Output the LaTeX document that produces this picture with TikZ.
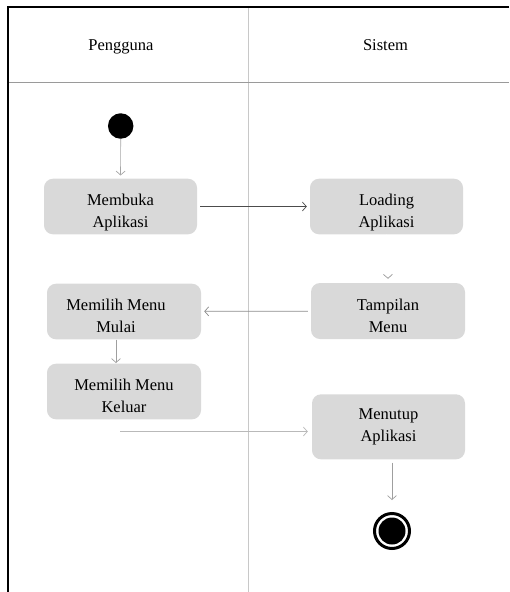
\documentclass[tikz,border=0pt]{standalone}
\usepackage{fontspec}
\setmainfont{Liberation Serif}
\usetikzlibrary{arrows.meta}
\definecolor{boxfill}{HTML}{D9D9D9}
\definecolor{lanegray}{HTML}{C8C8C8}
\definecolor{sepgray}{HTML}{9A9A9A}
% two centred lines; the taller first row sets the text a little low in its box
\newcommand{\acttext}[1]{\begin{tabular}{@{}c@{}}\rule{0pt}{27pt}#1\end{tabular}}
\tikzset{
  lbl/.style={font=\fontsize{16.5}{22}\selectfont},
  activity/.style={lbl, fill=boxfill, draw=none, rounded corners=9pt,
    minimum width=153pt, minimum height=55pt, inner sep=0pt, align=center},
  flow/.style={draw=#1, line width=0.7pt,
    -{Straight Barb[length=4pt,width=9pt,line width=0.7pt]},
    shorten <=3pt, shorten >=3pt},
  flow/.default={gray},
}
\begin{document}
\begin{tikzpicture}[x=1pt,y=-1pt]
\useasboundingbox (0,0) rectangle (509,592);
% swimlane frame
\draw[lanegray, line width=1.2pt] (248.3,7) -- (248.3,592);
\draw[sepgray, line width=1.2pt] (9.2,82.7) -- (509,82.7);
\draw[black, line width=2pt] (509,6.7) -- (8.2,6.7) -- (8.2,592);
% lane headers
\node[lbl, anchor=base] (hUser) at (121,50.5) {Pengguna};
\node[lbl, anchor=base] (hSys) at (385.5,50.5) {Sistem};
% start and end states
\node[circle, fill=black, minimum size=25.5pt, inner sep=0pt] (start) at (120.7,126) {};
\node[circle, draw=black, line width=3pt, fill=white, minimum size=35pt, inner sep=0pt] (finish) at (392,531) {};
\fill[black] (finish.center) circle (13.5);
% activities
\node[activity] (buka) at (120.5,206.5) {\acttext{Membuka\\Aplikasi}};
\node[activity] (load) at (386.5,206.5) {\acttext{Loading\\Aplikasi}};
\node[activity, minimum width=154pt, minimum height=56pt] (tampil) at (388,311) {\acttext{Tampilan\\Menu}};
\node[activity, minimum width=154pt] (mulai) at (124,311.5) {\acttext{\hspace*{-16pt}Memilih Menu\\\hspace*{-16pt}Mulai}};
\node[activity, minimum width=154pt] (keluar) at (124,391.5) {\acttext{Memilih Menu\\Keluar}};
\node[activity, minimum height=65pt] (tutup) at (388.5,426.8) {Menutup\\Aplikasi};
\coordinate (kstart) at (120,431.5);
% transitions
\draw[flow={gray!70}, shorten <=0pt] (start) -- (buka);
\draw[flow={black!70}] (buka) -- (load);
\draw[draw=white, -{Straight Barb[length=4pt,width=9pt,line width=0.7pt,color=gray!80]}, shorten >=4pt]
  ([xshift=0.2pt]load.south) -- ([xshift=0.2pt]tampil.north);
\draw[flow={gray!90}] (tampil) -- (mulai);
\draw[flow={gray!75}, shorten <=0pt, shorten >=0.5pt] ([xshift=-8pt]mulai.south) -- ([xshift=-8pt]keluar.north);
\draw[flow={gray!55}, shorten <=0pt, shorten >=4pt] (kstart) -- (kstart -| tutup.west);
\draw[flow={gray!75}, shorten >=12pt] (finish |- tutup.south) -- (finish.north);
\end{tikzpicture}
\end{document}
